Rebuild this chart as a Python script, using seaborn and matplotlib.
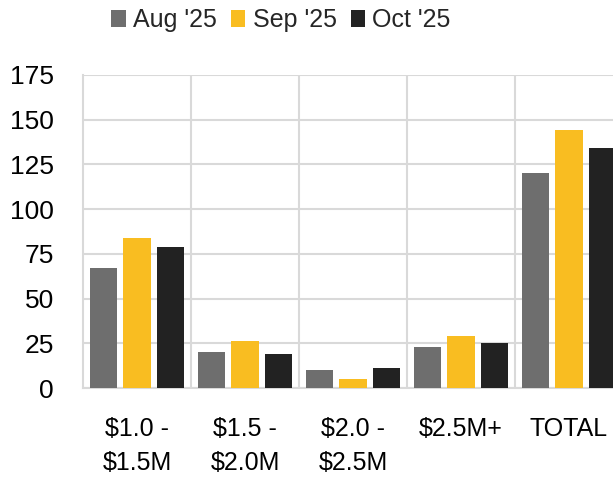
import matplotlib
matplotlib.use("Agg")
import matplotlib.pyplot as plt
import seaborn as sns
import pandas as pd
from matplotlib.ticker import MultipleLocator, FixedLocator
from matplotlib.patches import Patch

categorias = ["$1.0 -\n$1.5M", "$1.5 -\n$2.0M", "$2.0 -\n$2.5M", "$2.5M+", "TOTAL"]
meses = ["Aug '25", "Sep '25", "Oct '25"]
aug = [67, 20, 10, 23, 120]
sep = [84, 26, 5, 29, 144]
oct_ = [79, 19, 11, 25, 134]
cores = ["#6e6e6e", "#f9bd21", "#222222"]
cinza_grid = "#d9d9d9"

df = pd.DataFrame({
    "faixa": categorias * 3,
    "mes": [m for m in meses for _ in categorias],
    "valor": aug + sep + oct_,
})

sns.set_style("white")
plt.rcParams["font.family"] = ["Liberation Sans", "DejaVu Sans"]
plt.rcParams["text.parse_math"] = False

fig = plt.figure(figsize=(6.13, 4.78), dpi=100)
ax = fig.add_axes([83 / 613, 1 - 388 / 478, 540 / 613, 313 / 478])

sns.barplot(data=df, x="faixa", y="valor", hue="mes", order=categorias,
            hue_order=meses, palette=cores, saturation=1, width=0.94, gap=0.2,
            linewidth=0, ax=ax, legend=False, zorder=3)

ax.set_xlim(-0.5, 4.5)
ax.set_ylim(0, 175)
ax.yaxis.set_major_locator(MultipleLocator(25))
ax.xaxis.set_minor_locator(FixedLocator([0.5, 1.5, 2.5, 3.5]))
ax.grid(axis="y", which="major", color=cinza_grid, linewidth=1.5, zorder=0)
ax.grid(axis="x", which="minor", color=cinza_grid, linewidth=1.5, zorder=0)
ax.set_axisbelow(True)
for lado in ["top", "right"]:
    ax.spines[lado].set_visible(False)
for lado in ["left", "bottom"]:
    ax.spines[lado].set_color(cinza_grid)
    ax.spines[lado].set_linewidth(1.5)
ax.tick_params(axis="y", length=0, labelsize=19, pad=21, labelcolor="black")
ax.tick_params(axis="x", which="both", length=0, labelsize=18, pad=21, labelcolor="black")
ax.set_xlabel("")
ax.set_ylabel("")
for t in ax.get_xticklabels():
    t.set_linespacing(1.5)

handles = [Patch(facecolor=c, edgecolor="none") for c in cores]
fig.legend(handles, meses, loc="center", bbox_to_anchor=(281 / 613, 1 - 20 / 478),
           ncol=3, frameon=False, fontsize=18,
           handlelength=0.58, handleheight=0.7, handletextpad=0.3, columnspacing=0.55)

plt.savefig("out.png", dpi=100)
